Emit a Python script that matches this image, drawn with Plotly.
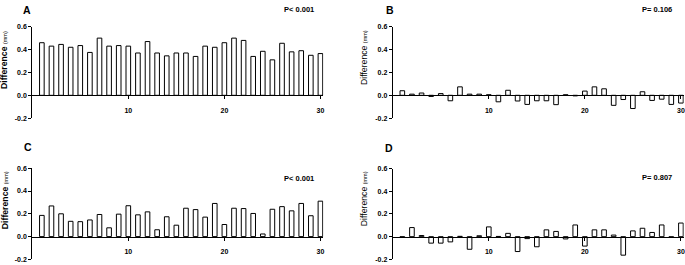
import plotly.graph_objects as go

# ---------------- data ----------------
subjects = list(range(1, 31))
diff_a = [0.46, 0.43, 0.445, 0.42, 0.435, 0.375, 0.50, 0.43, 0.435, 0.43,
          0.37, 0.47, 0.37, 0.345, 0.37, 0.37, 0.34, 0.43, 0.42, 0.46,
          0.50, 0.48, 0.34, 0.385, 0.31, 0.455, 0.38, 0.39, 0.35, 0.365]
diff_b = [0.04, 0.01, 0.02, -0.01, 0.015, -0.048, 0.074, 0.01, 0.01, 0.005,
          -0.057, 0.044, -0.05, -0.08, -0.048, -0.048, -0.082, 0.005, -0.005, 0.037,
          0.074, 0.057, -0.088, -0.037, -0.116, 0.031, -0.045, -0.034, -0.08, -0.068]
diff_c = [0.186, 0.269, 0.20, 0.134, 0.131, 0.146, 0.194, 0.077, 0.197, 0.271,
          0.191, 0.217, 0.06, 0.174, 0.10, 0.249, 0.237, 0.171, 0.291, 0.106,
          0.249, 0.246, 0.203, 0.023, 0.24, 0.263, 0.226, 0.291, 0.183, 0.311]
diff_d = [-0.005, 0.08, 0.01, -0.057, -0.057, -0.046, 0.003, -0.111, 0.008, 0.086,
          0.002, 0.029, -0.131, -0.017, -0.089, 0.06, 0.046, -0.02, 0.103, -0.083,
          0.06, 0.06, 0.014, -0.163, 0.051, 0.074, 0.037, 0.103, -0.007, 0.12]
panel_letters = ["A", "B", "C", "D"]
p_values = ["P< 0.001", "P= 0.106", "P< 0.001", "P= 0.807"]
y_ticks = [-0.2, 0.0, 0.2, 0.4, 0.6]
x_ticks = [10, 20, 30]

# ---------------- layout helpers ----------------
W, H = 685, 265
FONT = "Liberation Sans, Arial, sans-serif"


def px(x):
    return x / W


def py(y):
    return 1 - y / H


SCALE = 9.62          # pixels per subject
XMAX = 30.3
panels = [
    # values, y-axis x pixel, top px, bottom px, letter pos, p pos, title pos, bold title
    (diff_a, 32.3, 23.3, 117.3, (27.5, 6.3), (299, 6), (4.5, 57), True),
    (diff_b, 393.3, 23.5, 117.2, (390.5, 6.3), (658, 6), (364, 55), False),
    (diff_c, 32.3, 168.7, 262.3, (28.5, 146.5), (299, 179), (4.5, 201), True),
    (diff_d, 393.3, 169.0, 262.3, (389.5, 148), (658, 178.5), (364, 200), False),
]

fig = go.Figure()
annotations = []
for i, (vals, x0, ytop, ybot, lpos, ppos, tpos, bold) in enumerate(panels):
    n = "" if i == 0 else str(i + 1)
    fig.add_trace(go.Bar(
        x=subjects, y=vals, width=0.48,
        marker=dict(color="white", line=dict(color="black", width=1)),
        xaxis="x" + n, yaxis="y" + n, showlegend=False, hoverinfo="skip",
    ))
    zero_px = ybot - 0.25 * (ybot - ytop)
    fig.layout["xaxis" + n] = dict(
        domain=[px(x0), px(x0 + XMAX * SCALE)], range=[0, XMAX],
        anchor="free", position=py(zero_px),
        showline=True, linecolor="black", linewidth=1,
        ticks="outside", ticklen=3, tickwidth=1, tickcolor="black",
        tickvals=x_ticks, ticktext=[str(t) for t in x_ticks],
        ticklabelstandoff=5,
        tickfont=dict(family=FONT, size=7, color="black", weight="bold"),
        showgrid=False, zeroline=False, fixedrange=True,
    )
    fig.layout["yaxis" + n] = dict(
        domain=[py(ybot), py(ytop)], range=[-0.2, 0.6],
        anchor="x" + n,
        showline=True, linecolor="black", linewidth=1,
        ticks="outside", ticklen=3, tickwidth=1, tickcolor="black",
        tickvals=y_ticks, ticktext=[f"{t:.1f}" for t in y_ticks],
        ticklabelstandoff=0,
        tickfont=dict(family=FONT, size=7, color="black", weight="bold"),
        showgrid=False, zeroline=False, fixedrange=True,
    )
    annotations.append(dict(
        text=f"<b>{panel_letters[i]}</b>", x=px(lpos[0]), y=py(lpos[1]),
        xref="paper", yref="paper", xanchor="center", yanchor="middle",
        showarrow=False, font=dict(family=FONT, size=10.5, color="black"),
    ))
    annotations.append(dict(
        text=f"<b>{p_values[i]}</b>", x=px(ppos[0]), y=py(ppos[1]),
        xref="paper", yref="paper", xanchor="center", yanchor="middle",
        showarrow=False, font=dict(family=FONT, size=7.5, color="black"),
    ))
    word = "<b>Difference</b>" if bold else "Difference"
    annotations.append(dict(
        text=word + " <span style='font-size:5.5px'>(mm)</span>",
        x=px(tpos[0]), y=py(tpos[1]), textangle=-90,
        xref="paper", yref="paper", xanchor="center", yanchor="middle",
        showarrow=False, font=dict(family=FONT, size=8.7, color="black"),
    ))

fig.update_layout(
    width=W, height=H, margin=dict(l=0, r=0, t=0, b=0),
    paper_bgcolor="white", plot_bgcolor="white",
    annotations=annotations, bargap=0, hovermode=False,
)
fig.write_html(
    "out.html",
    config={"displayModeBar": False, "staticPlot": True},
    post_script="document.body.style.margin='0';document.body.style.overflow='hidden';",
)
